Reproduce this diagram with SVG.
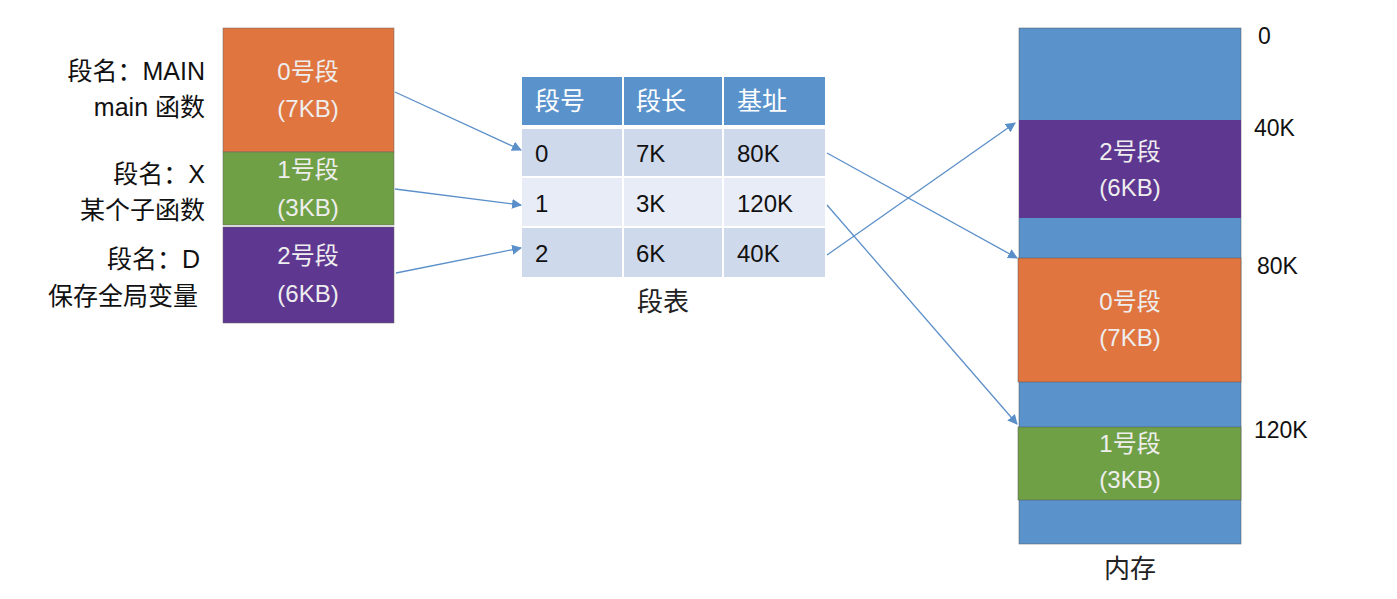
<svg xmlns="http://www.w3.org/2000/svg" width="1397" height="599" viewBox="0 0 1397 599">
<style>
text{font-family:"Liberation Sans","Noto Sans CJK SC",sans-serif;}
.lbl{font-size:25px;fill:#111;text-anchor:end}
.seg{font-size:24px;fill:#eee;text-anchor:middle}
.cell{font-size:24px;fill:#111}
.hdr{font-size:25px;fill:#fff}
.addr{font-size:23px;fill:#111}
.con{stroke:#5b8fc9;stroke-width:1.3;fill:none;marker-end:url(#ah)}
</style>
<defs><marker id="ah" viewBox="0 0 10 10" refX="9" refY="5" markerWidth="10" markerHeight="10" markerUnits="userSpaceOnUse" orient="auto"><path d="M0,0L10,5L0,10z" fill="#5b8fc9"/></marker></defs>
<rect width="1397" height="599" fill="#fff"/>
<g id="labels">
<text class="lbl" x="205" y="80">段名：MAIN</text>
<text class="lbl" x="205" y="116">main 函数</text>
<text class="lbl" x="205" y="183">段名：X</text>
<text class="lbl" x="205" y="219">某个子函数</text>
<text class="lbl" x="200" y="268">段名：D</text>
<text class="lbl" x="198" y="305">保存全局变量</text>
</g>
<g id="seg0"><rect x="223" y="28" width="171" height="124" fill="#e07540" stroke="#666" stroke-width="0.5"/><text class="seg" x="308" y="80">0号段</text><text class="seg" x="308" y="117">(7KB)</text></g>
<g id="seg1"><rect x="223" y="152" width="171" height="73" fill="#70a046" stroke="#666" stroke-width="0.5"/><text class="seg" x="308" y="178">1号段</text><text class="seg" x="308" y="216">(3KB)</text></g>
<g id="seg2"><rect x="223" y="227" width="171" height="96" fill="#5e3791" stroke="#666" stroke-width="0.5"/><text class="seg" x="308" y="264">2号段</text><text class="seg" x="308" y="302">(6KB)</text></g>
<g id="table">
<rect x="522" y="77" width="303" height="48" fill="#5a93cc"/>
<rect x="522" y="129" width="303" height="47" fill="#cfd9ec"/>
<rect x="522" y="178" width="303" height="48" fill="#e8ecf6"/>
<rect x="522" y="228" width="303" height="49" fill="#cfd9ec"/>
<g stroke="#fff" stroke-width="2"><line x1="623" y1="77" x2="623" y2="277"/><line x1="723" y1="77" x2="723" y2="277"/></g>
<text class="hdr" x="535" y="110">段号</text><text class="hdr" x="636" y="110">段长</text><text class="hdr" x="737" y="110">基址</text>
<text class="cell" x="535" y="162">0</text><text class="cell" x="636" y="162">7K</text><text class="cell" x="737" y="162">80K</text>
<text class="cell" x="535" y="212">1</text><text class="cell" x="636" y="212">3K</text><text class="cell" x="737" y="212">120K</text>
<text class="cell" x="535" y="262">2</text><text class="cell" x="636" y="262">6K</text><text class="cell" x="737" y="262">40K</text>
<text x="663" y="311" font-size="26" fill="#222" text-anchor="middle">段表</text>
</g>
<g id="memory">
<rect x="1019" y="28" width="222" height="516" fill="#5a93cc" stroke="#555" stroke-width="0.5"/>
<rect x="1019" y="120" width="222" height="98" fill="#5e3791"/>
<rect x="1018" y="258" width="223" height="124" fill="#e07540" stroke="#555" stroke-width="0.5"/>
<rect x="1018" y="427" width="223" height="73" fill="#70a046" stroke="#555" stroke-width="0.5"/>
<text class="seg" x="1130" y="160">2号段</text><text class="seg" x="1130" y="196">(6KB)</text>
<text class="seg" x="1130" y="310">0号段</text><text class="seg" x="1130" y="346">(7KB)</text>
<text class="seg" x="1130" y="452">1号段</text><text class="seg" x="1130" y="488">(3KB)</text>
<text x="1130" y="578" font-size="26" fill="#222" text-anchor="middle">内存</text>
<text class="addr" x="1258" y="44">0</text>
<text class="addr" x="1254" y="136">40K</text>
<text class="addr" x="1257" y="274">80K</text>
<text class="addr" x="1254" y="438">120K</text>
</g>
<g id="connectors">
<line class="con" x1="395" y1="92" x2="521" y2="150"/>
<line class="con" x1="395" y1="189" x2="521" y2="205"/>
<line class="con" x1="396" y1="273" x2="521" y2="248"/>
<line class="con" x1="827" y1="153" x2="1017" y2="258"/>
<line class="con" x1="827" y1="205" x2="1017" y2="424"/>
<line class="con" x1="827" y1="255" x2="1015" y2="123"/>
</g>
</svg>
